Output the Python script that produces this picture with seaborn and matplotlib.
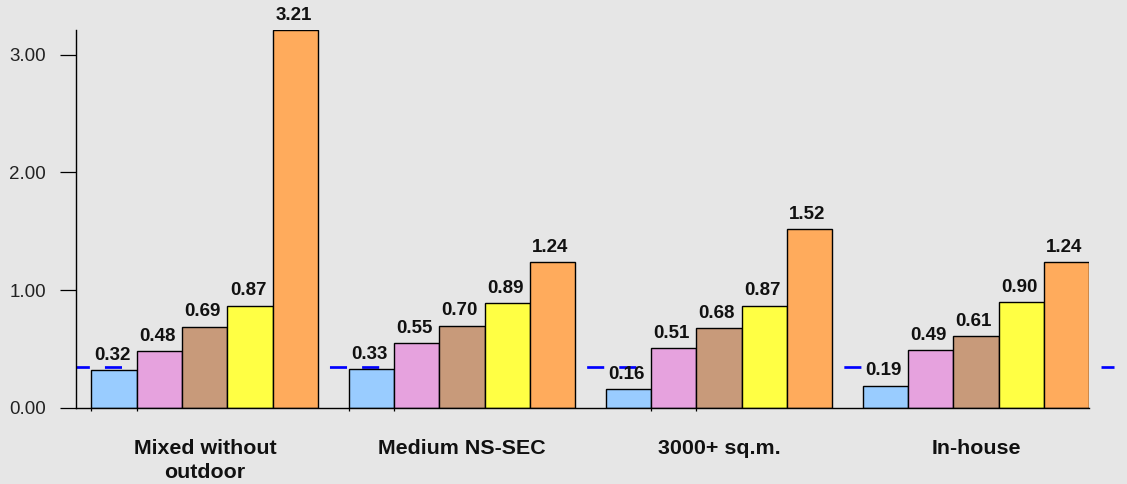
import matplotlib
matplotlib.use("Agg")
import matplotlib.pyplot as plt
import matplotlib.transforms as mtransforms
import seaborn as sns
import pandas as pd

# Categories and the five series shown for each one
categories = ["Mixed without\noutdoor", "Medium NS-SEC", "3000+ sq.m.", "In-house"]
series_names = ["S1", "S2", "S3", "S4", "S5"]
s1 = [0.32, 0.33, 0.16, 0.19]
s2 = [0.48, 0.55, 0.51, 0.49]
s3 = [0.69, 0.70, 0.68, 0.61]
s4 = [0.87, 0.89, 0.87, 0.90]
s5 = [3.21, 1.24, 1.52, 1.24]
reference_value = 0.35
y_ticks = [0.0, 1.0, 2.0, 3.0]

bar_colors = ["#99CCFF", "#E6A2DE", "#C89A7A", "#FFFF44", "#FFAB5C"]
bg = "#E6E6E6"

sns.set_style("ticks")
plt.rcParams["font.family"] = ["Liberation Sans", "DejaVu Sans"]

rows = []
for name, vals in zip(series_names, [s1, s2, s3, s4, s5]):
    for cat, v in zip(categories, vals):
        rows.append({"category": cat, "series": name, "value": v})
df = pd.DataFrame(rows)

fig = plt.figure(figsize=(11.27, 4.84), dpi=100, facecolor=bg)
ax = fig.add_axes([76.3 / 1127, 76 / 484, 1013 / 1127, 378 / 484])
ax.set_facecolor(bg)

group_width = 0.882
sns.barplot(data=df, x="category", y="value", hue="series", order=categories,
            hue_order=series_names, palette=bar_colors, width=group_width, gap=0,
            saturation=1, edgecolor="black", linewidth=1.0, legend=False,
            ax=ax, zorder=2)

ax.set_xlim(-0.5, len(categories) - 1 + group_width / 2)
ax.set_ylim(0, 3.21)

# Dashed reference line, running a little past the end of the x axis
trans = mtransforms.blended_transform_factory(ax.transAxes, ax.transData)
ax.plot([0, 1.0245], [reference_value, reference_value], transform=trans,
        color="#0000FF", linewidth=1.95, linestyle=(1.37, (6.3, 5.57)),
        clip_on=False, zorder=1, solid_capstyle="butt", dash_capstyle="butt")

# Value labels above each bar, on a tight background patch
for cont in ax.containers:
    for bar, val in zip(cont, cont.datavalues):
        ax.annotate(f"{val:.2f}", xy=(bar.get_x() + bar.get_width() / 2, val),
                    xytext=(-1.5, 4.5), textcoords="offset points",
                    ha="center", va="bottom", fontsize=13.5, fontweight="bold",
                    color="#111111", annotation_clip=False, zorder=3,
                    bbox=dict(boxstyle="square,pad=-0.17", facecolor=bg,
                              edgecolor="none"))

# Axes styling
for side in ["top", "right"]:
    ax.spines[side].set_visible(False)
for side in ["left", "bottom"]:
    ax.spines[side].set_color("black")
    ax.spines[side].set_linewidth(1.0)

ax.set_yticks(y_ticks)
ax.set_yticklabels([f"{t:.2f}" for t in y_ticks])
ax.tick_params(axis="y", length=11.5, width=0.9, pad=10.3, labelsize=13.5,
               colors="black", labelcolor="#222222")
ax.tick_params(axis="x", which="major", length=0, pad=22.5, labelsize=15.4)
for lbl in ax.get_xticklabels():
    lbl.set_fontweight("bold")
    lbl.set_linespacing(1.3)
    lbl.set_color("#111111")

# Small tick marks at a few bar edges
edge_ticks = []
for g, idxs in [(0, [0, 1]), (1, [0, 1]), (2, [1, 2])]:
    for h in idxs:
        edge_ticks.append(ax.containers[h][g].get_x())
ax.set_xticks(edge_ticks, minor=True)
ax.tick_params(axis="x", which="minor", length=2, width=0.9, direction="out", colors="black")

ax.set_xlabel("")
ax.set_ylabel("")

fig.savefig("out.png", dpi=100, facecolor=bg)
